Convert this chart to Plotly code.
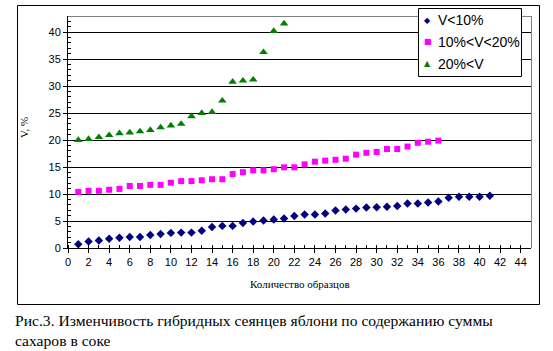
import plotly.graph_objects as go

# Data
x_low = list(range(1, 42))
v_low = [0.7, 1.2, 1.4, 1.7, 1.9, 2.05, 2.05, 2.4, 2.6, 2.8, 2.85, 2.85, 3.2, 3.9, 4.1,
         4.1, 4.65, 4.9, 5.1, 5.3, 5.45, 5.95, 6.2, 6.2, 6.4, 6.95, 7.15, 7.3, 7.5, 7.55,
         7.65, 7.8, 8.25, 8.25, 8.45, 8.6, 9.3, 9.5, 9.5, 9.5, 9.7]
x_mid = list(range(1, 37))
v_mid = [10.4, 10.6, 10.6, 10.8, 10.95, 11.5, 11.5, 11.7, 11.7, 12.1, 12.4, 12.4, 12.55,
         12.75, 12.75, 13.7, 14.05, 14.4, 14.4, 14.6, 14.95, 14.95, 15.5, 16.0, 16.2,
         16.35, 16.55, 17.3, 17.65, 17.8, 18.35, 18.35, 18.8, 19.5, 19.7, 19.9]
x_high = list(range(1, 22))
v_high = [20.0, 20.2, 20.55, 20.9, 21.25, 21.4, 21.6, 21.85, 22.35, 22.7, 23.0, 24.4,
          25.0, 25.2, 27.3, 30.8, 31.0, 31.2, 36.3, 40.2, 41.6]
names = ["V<10%", "10%<V<20%", "20%<V"]
colors = ["#000080", "#FF00FF", "#008000"]
legend_glyphs = ["\u25C6", "\u25A0", "\u25B2"]
x_ticks = list(range(0, 45, 2))
y_ticks = list(range(0, 45, 5))

W, H = 553, 351
L, R, T, B = 68, 531, 16, 248
pw, ph = R - L, B - T

def px(x):
    return (x - L) / pw

def py(y):
    return (B - y) / ph

fig = go.Figure()
fig.add_trace(go.Scatter(x=x_low, y=v_low, mode="markers", name=names[0],
                         marker=dict(symbol="diamond", size=6.5, color=colors[0])))
fig.add_trace(go.Scatter(x=x_mid, y=v_mid, mode="markers", name=names[1],
                         marker=dict(symbol="square", size=6, color=colors[1])))
fig.add_trace(go.Scatter(x=x_high, y=v_high, mode="markers", name=names[2],
                         marker=dict(symbol="triangle-up", size=7.5, color=colors[2])))

tickfont = dict(family="Liberation Sans, Arial", size=11, color="black")

fig.update_layout(
    width=W, height=H,
    margin=dict(l=L, r=W - R, t=T, b=H - B),
    paper_bgcolor="white", plot_bgcolor="white",
    showlegend=False,
    xaxis=dict(range=[0, 45], tickvals=x_ticks, ticktext=[str(v) for v in x_ticks],
               showgrid=False, zeroline=False, showline=True, linecolor="black",
               linewidth=1, ticks="outside", ticklen=4, tickcolor="black",
               tickfont=tickfont,
               minor=dict(dtick=1, tick0=0, ticks="inside", ticklen=3, tickcolor="black", showgrid=False)),
    yaxis=dict(range=[0, 43], tickvals=y_ticks, ticktext=[str(v) for v in y_ticks],
               showgrid=True, gridcolor="black", gridwidth=1, zeroline=False,
               showline=True, linecolor="black", linewidth=1, ticks="outside",
               ticklen=4, tickcolor="black", tickfont=tickfont,
               minor=dict(dtick=1, tick0=0, ticks="inside", ticklen=3, tickcolor="black", showgrid=False)),
)

# plot area top/right borders (gray)
fig.add_shape(type="line", xref="paper", yref="paper", x0=0, x1=1, y0=py(16.5), y1=py(16.5),
              line=dict(color="#808080", width=1))
fig.add_shape(type="line", xref="paper", yref="paper", x0=px(531.5), x1=px(531.5), y0=0, y1=1,
              line=dict(color="#808080", width=1))
# outer chart frame
fig.add_shape(type="rect", xref="paper", yref="paper",
              x0=px(17.5), x1=px(539.5), y0=py(304.5), y1=py(5.5),
              line=dict(color="black", width=1))

# custom legend
fig.add_shape(type="rect", xref="paper", yref="paper",
              x0=px(418.5), x1=px(521.5), y0=py(76.5), y1=py(8.5),
              line=dict(color="black", width=1), fillcolor="white")
for i, (nm, col, gl) in enumerate(zip(names, colors, legend_glyphs)):
    yc = 20 + 22 * i
    fig.add_annotation(text=gl, xref="paper", yref="paper", x=px(427.5), y=py(yc),
                       xanchor="center", yanchor="middle", showarrow=False,
                       font=dict(family="DejaVu Sans", size=8, color=col))
    fig.add_annotation(text=nm, xref="paper", yref="paper", x=px(436), y=py(yc),
                       xanchor="left", yanchor="middle", showarrow=False,
                       font=dict(family="Liberation Sans, Arial", size=14, color="black"))

fig.add_annotation(text="Количество образцов", xref="paper", yref="paper",
                   x=px(300), y=py(284), xanchor="center", yanchor="middle",
                   showarrow=False,
                   font=dict(family="Liberation Serif, Times New Roman", size=11, color="black"))
fig.add_annotation(text="V, %", xref="paper", yref="paper",
                   x=px(24), y=py(128), xanchor="center", yanchor="middle",
                   textangle=-90, showarrow=False,
                   font=dict(family="Liberation Serif, Times New Roman", size=11, color="black"))
fig.add_annotation(text="Рис.3. Изменчивость гибридных сеянцев яблони по содержанию суммы<br>сахаров в соке",
                   xref="paper", yref="paper", x=px(13), y=py(310),
                   xanchor="left", yanchor="top", align="left", showarrow=False,
                   font=dict(family="Liberation Serif, Times New Roman", size=15.6, color="black"))

fig.write_html("out.html")
